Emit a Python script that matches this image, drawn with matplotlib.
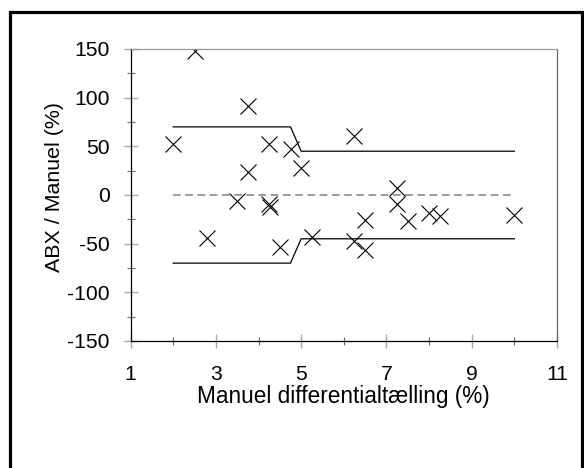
import matplotlib
matplotlib.use("Agg")
import matplotlib.pyplot as plt
from matplotlib.patches import Rectangle
from matplotlib.ticker import MultipleLocator

plt.rcParams['font.family'] = ['Liberation Sans', 'DejaVu Sans']
plt.rcParams['axes.unicode_minus'] = False

# Data
manuel = [2.0, 2.5, 2.8, 3.5, 3.75, 3.75, 4.25, 4.25, 4.28, 4.5, 4.75, 5.0, 5.25,
          6.25, 6.25, 6.5, 6.5, 7.25, 7.25, 7.5, 8.0, 8.25, 10.0]
ratio = [52, 148, -44, -6, 91, 24, 52, -9, -12, -53, 47, 28, -43,
         61, -47, -26, -57, 7, -9, -27, -19, -22, -21]

upper_x = [2, 4.75, 5, 10]
upper_y = [70, 70, 45, 45]
lower_x = [2, 4.75, 5, 10]
lower_y = [-70, -70, -45, -45]
mean_x = [2, 10]
mean_y = [0, 0]

x_ticks = [1, 3, 5, 7, 9, 11]
x_tick_labels = ['1', '3', '5', '7', '9', '11']
y_ticks = [-150, -100, -50, 0, 50, 100, 150]
y_tick_labels = ['-150', '-100', '-50', '0', '50', '100', '150']

W, H = 584, 468
fig = plt.figure(figsize=(W / 100, H / 100), dpi=100)

# outer frame
fig.patches.append(Rectangle((9.5 / W, -0.05), (582 - 9.5) / W, 1.05 - 12.5 / H,
                             transform=fig.transFigure, fill=False,
                             edgecolor='black', linewidth=2.3, zorder=0))

ax_l, ax_b, ax_r, ax_t = 130.6, 341, 557, 49
ax = fig.add_axes([ax_l / W, 1 - ax_b / H, (ax_r - ax_l) / W, (ax_b - ax_t) / H])

ax.plot(mean_x, mean_y, color='#808080', linewidth=1.1, dashes=(5, 3))
ax.plot(upper_x, upper_y, color='black', linewidth=0.9)
ax.plot(lower_x, lower_y, color='black', linewidth=0.9)
ax.plot(manuel, ratio, linestyle='none', marker='x', markersize=12,
        markeredgewidth=0.8, color='black')

ax.set_xlim(1, 11)
ax.set_ylim(-150, 150)
ax.set_xticks(x_ticks, labels=x_tick_labels)
ax.set_yticks(y_ticks, labels=y_tick_labels)
ax.xaxis.set_minor_locator(MultipleLocator(1))
ax.yaxis.set_minor_locator(MultipleLocator(25))

ax.spines['left'].set_color('black')
ax.spines['bottom'].set_color('black')
ax.spines['top'].set_color('#999999')
ax.spines['right'].set_color('#666666')
for s in ax.spines.values():
    s.set_linewidth(0.9)

ax.tick_params(which='major', direction='inout', length=10, width=1.0,
               color='#aaaaaa', labelsize=15.2, labelcolor='black')
ax.tick_params(which='minor', direction='inout', length=6, width=0.8,
               color='#666666')
ax.tick_params(axis='y', which='major', pad=10)
ax.tick_params(axis='x', which='major', pad=12)

ax.set_xlabel('Manuel differentialtælling (%)', fontsize=16.3, labelpad=1)
ax.set_ylabel('ABX / Manuel (%)', fontsize=15.4)
ax.yaxis.set_label_coords((64 - ax_l) / (ax_r - ax_l), (ax_b - 187) / (ax_b - ax_t))

fig.savefig('out.png', dpi=100)
